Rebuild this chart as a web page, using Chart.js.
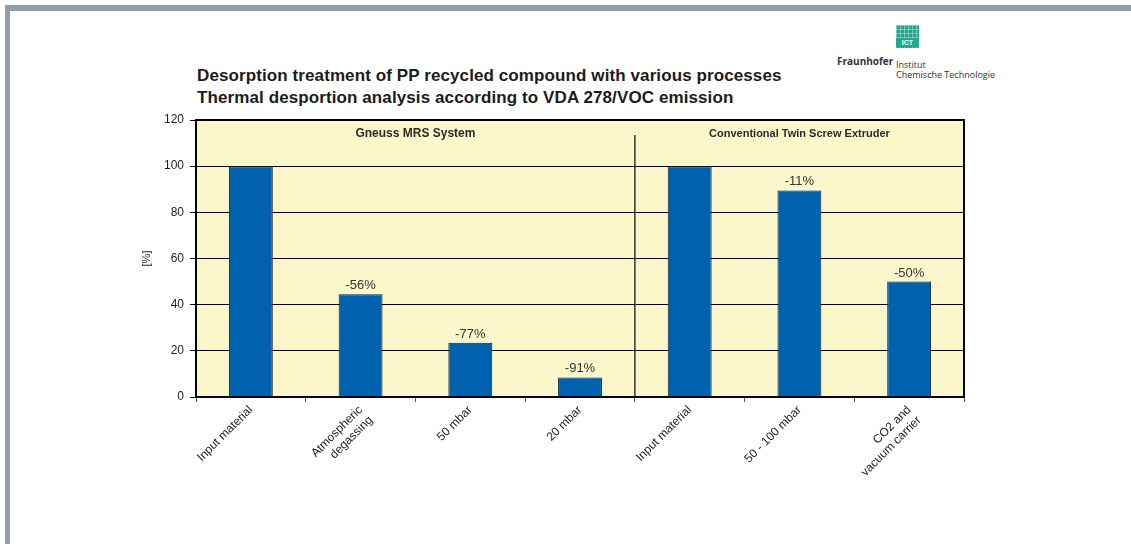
<!DOCTYPE html>
<html>
<head>
<title>VDA 278 desorption</title>
<script src="https://cdn.jsdelivr.net/npm/chart.js@4.4.1/dist/chart.umd.min.js"></script>
<style>
  body { margin: 0; background: #fff; font-family: Arial, "Liberation Sans", sans-serif; }
  #frame { position: absolute; left: 5px; top: 5px; width: 1126px; height: 539px;
           border-top: 6px solid #8e9fab; border-left: 5px solid #8e9fab; box-sizing: border-box; }
  #title { position: absolute; left: 197px; top: 65px; font-weight: bold; font-size: 17px;
           line-height: 22px; color: #1c1c1c; letter-spacing: 0.1px; }
  #logo { position: absolute; left: 896px; top: 25px; width: 23px; height: 23px; background: #22a88a;
          background-image: linear-gradient(90deg, rgba(255,255,255,0.35) 1px, transparent 1px),
                            linear-gradient(rgba(255,255,255,0.35) 1px, transparent 1px);
          background-size: 4px 4px; }
  #logo span { position: absolute; left: 0; right: 0; bottom: 1px; height: 9px; background: #22a88a;
               color: #fff; font-size: 7px; font-weight: bold; text-align: center; line-height: 9px; }
  #fh { position: absolute; left: 837px; top: 54px; font-size: 10px; font-weight: bold; color: #333;
        font-family: "Open Sans", sans-serif; }
  #inst { position: absolute; left: 896px; top: 60px; font-size: 9px; line-height: 10px; color: #333;
          font-family: "Open Sans", sans-serif; }
  #box { position: absolute; left: 0; top: 0; }
</style>
</head>
<body>
<div id="frame"></div>
<div id="title">Desorption treatment of PP recycled compound with various processes<br>Thermal desportion analysis according to VDA 278/VOC emission</div>
<div id="logo"><span>ICT</span></div>
<div id="fh">Fraunhofer</div>
<div id="inst">Institut<br>Chemische Technologie</div>
<div id="box"><canvas id="chartcanvas" width="1131" height="544"></canvas></div>

<script>
// data
const categories = [
    ['Input material'],
    ['Atmospheric', 'degassing'],
    ['50 mbar'],
    ['20 mbar'],
    ['Input material'],
    ['50 - 100 mbar'],
    ['CO2 and', 'vacuum carrier']
];
const values = [100, 44.5, 23.5, 8.5, 100, 89.5, 50];
const changeLabels = ['', '-56%', '-77%', '-91%', '', '-11%', '-50%'];
const groupNames = ['Gneuss MRS System', 'Conventional Twin Screw Extruder'];
const groupSizes = [4, 3];
const yTicks = [0, 20, 40, 60, 80, 100, 120];

function boundary(x, i) {
    // pixel between category i-1 and i
    if (i <= 0) return x.left;
    if (i >= categories.length) return x.right;
    return (x.getPixelForValue(i - 1) + x.getPixelForValue(i)) / 2;
}

const annotPlugin = {
    id: 'annot',
    beforeDraw(chart) {
        const a = chart.chartArea, c = chart.ctx;
        c.save();
        c.fillStyle = '#fbf7cb';
        c.fillRect(a.left, a.top, a.right - a.left, a.bottom - a.top);
        c.restore();
    },
    afterDatasetsDraw(chart) {
        const a = chart.chartArea, c = chart.ctx;
        const x = chart.scales.x;
        const meta = chart.getDatasetMeta(0);
        c.save();

        // separator between the two groups + group names
        let start = 0;
        c.strokeStyle = '#333';
        c.lineWidth = 1.5;
        for (let g = 0; g < groupSizes.length; g++) {
            const l = boundary(x, start);
            const r = boundary(x, start + groupSizes[g]);
            if (g > 0) {
                c.beginPath();
                c.moveTo(l, a.top + 15);
                c.lineTo(l, a.bottom);
                c.stroke();
            }
            c.fillStyle = '#2a2a2a';
            c.font = g == 0 ? 'bold 12px Arial' : 'bold 11px Arial';
            c.textAlign = 'center';
            c.textBaseline = 'middle';
            c.fillText(groupNames[g], (l + r) / 2, a.top + 14);
            start += groupSizes[g];
        }

        // change labels above bars
        c.font = '13px Arial';
        c.fillStyle = '#333';
        c.textBaseline = 'bottom';
        meta.data.forEach((bar, i) => {
            if (changeLabels[i]) c.fillText(changeLabels[i], bar.x, bar.y - 2);
        });

        // plot frame
        c.strokeStyle = '#000';
        c.lineWidth = 2;
        c.strokeRect(a.left, a.top, a.right - a.left, a.bottom - a.top);
        c.restore();
    }
};

const ctx = document.getElementById('chartcanvas');
var chart = new Chart(ctx, {
    type: 'bar',
    data: {
        labels: categories,
        datasets: [{
            data: values,
            backgroundColor: '#0062ae',
            borderColor: '#14213d',
            borderWidth: 1,
            categoryPercentage: 1,
            barPercentage: 0.4
        }]
    },
    options: {
        responsive: false,
        devicePixelRatio: 1,
        animation: false,
        layout: { padding: { left: 130, top: 120, right: 167, bottom: 40 } },
        plugins: { legend: { display: false }, tooltip: { enabled: false } },
        scales: {
            x: {
                grid: { offset: true, drawOnChartArea: false, drawTicks: true, tickLength: 5, color: '#555' },
                border: { display: false },
                ticks: { maxRotation: 45, minRotation: 45, padding: 1, color: '#222',
                         font: { family: 'Arial', size: 12 } },
                afterFit: s => { s.height = 107; }
            },
            y: {
                min: 0, max: 120,
                afterBuildTicks: s => { s.ticks = yTicks.map(v => ({ value: v })); },
                grid: { color: '#000', lineWidth: 1, tickLength: 6 },
                border: { display: false },
                ticks: { padding: 6, color: '#222', font: { family: 'Arial', size: 12 } },
                title: { display: true, text: '[%]', color: '#222', padding: { top: 10 },
                         font: { family: 'Arial', size: 11 } },
                afterFit: s => { s.width = 66; }
            }
        }
    },
    plugins: [annotPlugin]
});
</script>
</body>
</html>
